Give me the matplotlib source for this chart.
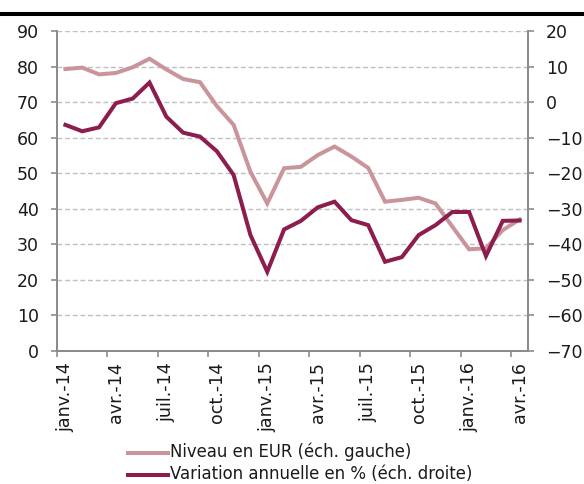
import matplotlib
matplotlib.use("Agg")
import matplotlib.pyplot as plt
from matplotlib.lines import Line2D
import numpy as np

# ---- data ----
tick_labels = ['janv.-14', 'avr.-14', 'juil.-14', 'oct.-14', 'janv.-15',
               'avr.-15', 'juil.-15', 'oct.-15', 'janv.-16', 'avr.-16']
niveau = [79.3, 79.7, 77.8, 78.2, 79.8, 82.2, 79.2, 76.5, 75.6, 68.9,
          63.6, 50.4, 41.5, 51.4, 51.8, 55.1, 57.5, 54.7, 51.5, 42.0,
          42.5, 43.1, 41.5, 35.0, 28.6, 28.9, 34.0, 37.0]
variation = [-6.4, -8.2, -7.1, -0.3, 1.0, 5.5, -4.1, -8.6, -9.7, -13.8,
             -20.5, -37.4, -47.7, -35.8, -33.4, -29.6, -28.0, -33.2, -34.6, -44.9,
             -43.6, -37.4, -34.6, -30.9, -30.9, -43.3, -33.4, -33.3]
label_niveau = 'Niveau en EUR (éch. gauche)'
label_variation = 'Variation annuelle en % (éch. droite)'

c_light = '#C9959B'
c_dark = '#8C1D4E'
c_axis = '#8C8C8C'
c_grid = '#C0C0C0'

plt.rcParams['font.family'] = ['DejaVu Sans']

fig = plt.figure(figsize=(5.84, 4.84), dpi=100)
ax = fig.add_axes([57/584, 1-351/484, (528-57)/584, (351-31)/484])
ax2 = ax.twinx()

n = len(niveau)
x = np.arange(n)
ax.plot(x, niveau, color=c_light, lw=2.9, solid_joinstyle='miter', zorder=3)
ax2.plot(x, variation, color=c_dark, lw=2.9, solid_joinstyle='miter', zorder=3)

ax.set_xlim(-0.5, n - 0.5)
ax.set_ylim(0, 90)
ax2.set_ylim(-70, 20)
ax.set_yticks(np.arange(0, 91, 10))
ax2.set_yticks(np.arange(-70, 21, 10))

# grid
for v in range(10, 91, 10):
    ax.axhline(v, color=c_grid, lw=1.0, ls=(0, (3.5, 2)), zorder=1)

# x ticks: boundaries every quarter; labels at category centres
bounds = np.arange(-0.5, n - 0.5, 3)
ax.set_xticks(bounds)
ax.set_xticklabels([])
centers = np.arange(0, n, 3)
ax.set_xticks(centers, minor=True)
ax.set_xticklabels(tick_labels, minor=True, rotation=90, fontsize=12.6,
                   va='top', ha='center')
ax.tick_params(axis='x', which='major', direction='out', length=4,
               width=1.2, color=c_axis)
ax.tick_params(axis='x', which='minor', length=0, pad=8, labelcolor='#1a1a1a')

ax.tick_params(axis='y', direction='out', length=4, width=1.2, color=c_axis,
               labelsize=12.5, pad=9, labelcolor='#1a1a1a')
ax2.tick_params(axis='y', direction='out', length=4, width=1.2, color=c_axis,
                labelsize=12.5, pad=9, labelcolor='#1a1a1a')

for a in (ax, ax2):
    a.spines['top'].set_visible(False)
    for s in ('left', 'right', 'bottom'):
        a.spines[s].set_color(c_axis)
        a.spines[s].set_linewidth(1.4)

# top black rule
fig.add_artist(Line2D([0, 1], [1-14/484, 1-14/484], transform=fig.transFigure,
                      color='black', lw=2.9))

# legend (manual)
for yy, col, lab in ((453, c_light, label_niveau), (475, c_dark, label_variation)):
    yf = 1 - yy/484
    fig.add_artist(Line2D([128/584, 168/584], [yf, yf], transform=fig.transFigure,
                          color=col, lw=2.9))
    fig.text(170/584, yf + 0.002, lab, fontsize=11.9,
             va='center', ha='left', color='#1a1a1a')

fig.savefig('out.png', dpi=100)
